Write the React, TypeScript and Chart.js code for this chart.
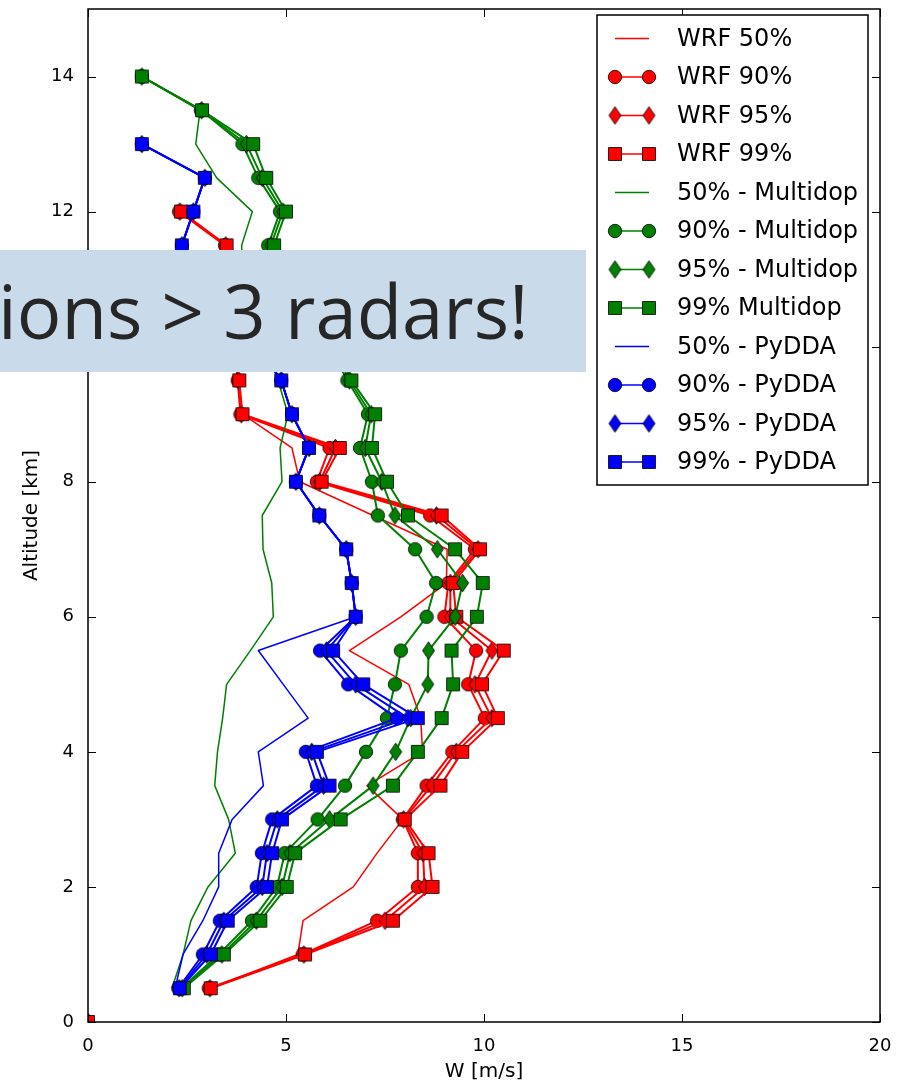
import React, { useEffect, useRef } from 'react';
import { Chart, registerables } from 'chart.js';

Chart.register(...registerables);

// ---------- data ----------
const ALT_WRF = [0, 0.5, 1, 1.5, 2, 2.5, 3, 3.5, 4, 4.5, 5, 5.5, 6, 6.5, 7, 7.5, 8, 8.5, 9, 9.5, 10, 10.5, 11, 11.5, 12];
const WRF_50 = [0, 3.1, 5.3, 5.43, 6.7, 7.3, 7.95, 7.05, 8.45, 8.4, 8.1, 6.6, 7.9, 9.05, 9.07, 7.2, 5.35, 5.15, 3.9, 3.8, 3.7, 3.6, 3.5, 3.48, 2.3];
const WRF_90 = [0, 3.05, 5.42, 7.3, 8.33, 8.33, 7.95, 8.55, 9.2, 10.02, 9.6, 9.8, 9.0, 9.1, 9.77, 8.64, 5.78, 6.1, 3.85, 3.78, 3.7, 3.6, 3.5, 3.46, 2.3];
const WRF_95 = [0, 3.08, 5.45, 7.5, 8.5, 8.46, 7.97, 8.68, 9.3, 10.2, 9.77, 10.2, 9.15, 9.15, 9.85, 8.8, 5.85, 6.25, 3.87, 3.8, 3.72, 3.62, 3.52, 3.48, 2.32];
const WRF_99 = [0, 3.1, 5.48, 7.7, 8.7, 8.6, 8.0, 8.9, 9.45, 10.35, 9.95, 10.5, 9.3, 9.22, 9.9, 8.93, 5.9, 6.36, 3.9, 3.82, 3.75, 3.65, 3.55, 3.5, 2.35];

const ALT_MD = [0.5, 1, 1.5, 2, 2.5, 3, 3.5, 4, 4.5, 5, 5.5, 6, 6.5, 7, 7.5, 8, 8.5, 9, 9.5, 10, 10.5, 11, 11.5, 12, 12.5, 13, 13.5, 14];
const MD_50 = [2.12, 2.4, 2.6, 3.03, 3.72, 3.55, 3.2, 3.27, 3.4, 3.5, 4.1, 4.68, 4.64, 4.42, 4.4, 4.9, 4.85, 5.05, 4.8, 4.5, 4.1, 3.9, 3.88, 4.15, 3.25, 2.72, 2.83, 1.36];
const MD_90 = [2.35, 3.3, 4.14, 4.77, 4.97, 5.8, 6.49, 7.02, 7.55, 7.75, 7.9, 8.55, 8.79, 8.26, 7.32, 7.17, 6.87, 7.07, 6.55, 6.1, 5.6, 5.1, 4.55, 4.85, 4.3, 3.9, 2.85, 1.36];
const MD_95 = [2.38, 3.38, 4.25, 4.9, 5.1, 6.1, 7.2, 7.77, 8.15, 8.58, 8.6, 9.27, 9.46, 8.82, 7.75, 7.42, 7.0, 7.15, 6.6, 6.2, 5.7, 5.2, 4.62, 4.92, 4.4, 4.0, 2.87, 1.36];
const MD_99 = [2.42, 3.43, 4.35, 5.02, 5.23, 6.38, 7.7, 8.33, 8.93, 9.22, 9.18, 9.82, 9.97, 9.27, 8.08, 7.55, 7.17, 7.25, 6.65, 6.3, 5.8, 5.3, 4.7, 5.0, 4.5, 4.17, 2.88, 1.36];

const ALT_PY = [0.5, 1, 1.5, 2, 2.5, 3, 3.5, 4, 4.5, 5, 5.5, 6, 6.5, 7, 7.5, 8, 8.5, 9, 9.5, 10, 10.5, 11, 11.5, 12, 12.5, 13];
const PY_50 = [2.2, 2.4, 2.9, 3.3, 3.3, 3.64, 4.43, 4.3, 5.56, 4.93, 4.3, 6.76, 6.66, 6.52, 5.84, 5.25, 5.58, 5.15, 4.88, 4.3, 3.6, 2.9, 2.37, 2.66, 2.95, 1.36];
const PY_90 = [2.28, 2.9, 3.33, 4.26, 4.39, 4.65, 5.78, 5.5, 7.8, 6.57, 5.86, 6.76, 6.66, 6.52, 5.84, 5.25, 5.58, 5.15, 4.88, 4.3, 3.6, 2.9, 2.37, 2.66, 2.95, 1.36];
const PY_95 = [2.3, 3.0, 3.43, 4.4, 4.52, 4.78, 5.95, 5.65, 8.08, 6.76, 6.02, 6.76, 6.66, 6.52, 5.84, 5.25, 5.58, 5.15, 4.88, 4.3, 3.6, 2.9, 2.37, 2.66, 2.95, 1.36];
const PY_99 = [2.32, 3.1, 3.53, 4.52, 4.65, 4.9, 6.1, 5.78, 8.33, 6.95, 6.19, 6.76, 6.66, 6.52, 5.84, 5.25, 5.58, 5.15, 4.88, 4.3, 3.6, 2.9, 2.37, 2.66, 2.95, 1.36];

const X_TICKS = [0, 5, 10, 15, 20];
const Y_TICKS = [0, 2, 4, 6, 8, 10, 12, 14];

const LABELS = [
  'WRF 50%', 'WRF 90%', 'WRF 95%', 'WRF 99%',
  '50% - Multidop', '90% - Multidop', '95% - Multidop', '99% Multidop',
  '50% - PyDDA', '90% - PyDDA', '95% - PyDDA', '99% - PyDDA',
];
const OVERLAY_TEXT = 'ions > 3 radars!';

const RED = '#ff0000';
const GREEN = '#008000';
const BLUE = '#0000ff';

type Shape = 'circle' | 'square' | 'diamond' | null;

function makeMarker(shape: Shape, color: string): HTMLCanvasElement {
  const c = document.createElement('canvas');
  const W = shape === 'diamond' ? 15 : 16;
  const H = shape === 'diamond' ? 20 : 16;
  c.width = W;
  c.height = H;
  const g = c.getContext('2d')!;
  g.fillStyle = color;
  g.strokeStyle = 'rgba(0,0,0,0.8)';
  g.lineWidth = 1;
  const cx = W / 2;
  const cy = H / 2;
  g.beginPath();
  if (shape === 'circle') g.arc(cx, cy, 6.7, 0, Math.PI * 2);
  else if (shape === 'square') g.rect(cx - 6.5, cy - 6.5, 13, 13);
  else {
    g.moveTo(cx, cy - 8.8);
    g.lineTo(cx + 6, cy);
    g.lineTo(cx, cy + 8.8);
    g.lineTo(cx - 6, cy);
    g.closePath();
  }
  g.fill();
  g.stroke();
  return c;
}

export default function App() {
  const ref = useRef<HTMLCanvasElement>(null);

  useEffect(() => {
    const series: { alt: number[]; w: number[]; color: string; shape: Shape; wrf: boolean }[] = [
      { alt: ALT_WRF, w: WRF_50, color: RED, shape: null, wrf: true },
      { alt: ALT_WRF, w: WRF_90, color: RED, shape: 'circle', wrf: true },
      { alt: ALT_WRF, w: WRF_95, color: RED, shape: 'diamond', wrf: true },
      { alt: ALT_WRF, w: WRF_99, color: RED, shape: 'square', wrf: true },
      { alt: ALT_MD, w: MD_50, color: GREEN, shape: null, wrf: false },
      { alt: ALT_MD, w: MD_90, color: GREEN, shape: 'circle', wrf: false },
      { alt: ALT_MD, w: MD_95, color: GREEN, shape: 'diamond', wrf: false },
      { alt: ALT_MD, w: MD_99, color: GREEN, shape: 'square', wrf: false },
      { alt: ALT_PY, w: PY_50, color: BLUE, shape: null, wrf: false },
      { alt: ALT_PY, w: PY_90, color: BLUE, shape: 'circle', wrf: false },
      { alt: ALT_PY, w: PY_95, color: BLUE, shape: 'diamond', wrf: false },
      { alt: ALT_PY, w: PY_99, color: BLUE, shape: 'square', wrf: false },
    ];
    const markers = series.map((s) => (s.shape ? makeMarker(s.shape, s.color) : null));

    const datasets = series.map((s, i) => ({
      label: LABELS[i],
      data: s.alt.map((a, j) => ({ x: s.w[j], y: a })),
      borderColor: s.color,
      backgroundColor: s.color,
      borderWidth: s.shape ? 2 : 1.5,
      borderJoinStyle: 'round' as const,
      showLine: true,
      pointStyle: markers[i] ? (markers[i] as any) : false,
      pointRadius: s.shape ? 7 : 0,
      pointHoverRadius: s.shape ? 7 : 0,
      order: 12 - i,
      segment: s.wrf
        ? { borderColor: (ctx: any) => (ctx.p0DataIndex === 0 ? 'rgba(0,0,0,0)' : undefined) }
        : undefined,
    }));

    const decor = {
      id: 'decor',
      afterDraw(chart: any) {
        const ctx = chart.ctx as CanvasRenderingContext2D;
        const ca = chart.chartArea;
        const xs = chart.scales.x;
        const ys = chart.scales.y;
        ctx.save();
        // ticks (inward, all sides)
        ctx.strokeStyle = '#000';
        ctx.lineWidth = 1;
        ctx.beginPath();
        X_TICKS.forEach((v) => {
          const px = Math.round(xs.getPixelForValue(v)) + 0.5;
          ctx.moveTo(px, ca.bottom);
          ctx.lineTo(px, ca.bottom - 8);
          ctx.moveTo(px, ca.top);
          ctx.lineTo(px, ca.top + 8);
        });
        Y_TICKS.forEach((v) => {
          const py = Math.round(ys.getPixelForValue(v)) + 0.5;
          ctx.moveTo(ca.left, py);
          ctx.lineTo(ca.left + 8, py);
          ctx.moveTo(ca.right, py);
          ctx.lineTo(ca.right - 8, py);
        });
        ctx.stroke();
        // frame
        ctx.lineWidth = 1.5;
        ctx.strokeRect(ca.left, ca.top, ca.right - ca.left, ca.bottom - ca.top);

        // legend
        const lx = 597, ly = 15, lw = 271, lh = 470;
        ctx.fillStyle = '#fff';
        ctx.fillRect(lx, ly, lw, lh);
        ctx.lineWidth = 1.5;
        ctx.strokeStyle = '#000';
        ctx.strokeRect(lx, ly, lw, lh);
        ctx.font = '24px "DejaVu Sans"';
        ctx.textBaseline = 'middle';
        ctx.textAlign = 'left';
        series.forEach((s, i) => {
          const cy = 38.5 + i * 38.5;
          ctx.strokeStyle = s.color;
          ctx.lineWidth = 1.5;
          ctx.beginPath();
          ctx.moveTo(615, cy);
          ctx.lineTo(649, cy);
          ctx.stroke();
          const m = markers[i];
          if (m) {
            ctx.drawImage(m, 615 - m.width / 2, cy - m.height / 2);
            ctx.drawImage(m, 649 - m.width / 2, cy - m.height / 2);
          }
          ctx.fillStyle = '#000';
          ctx.fillText(LABELS[i], 677, cy + 1);
        });

        // overlay banner
        ctx.fillStyle = '#c9daea';
        ctx.fillRect(0, 250, 586, 122);
        ctx.fillStyle = '#262626';
        ctx.textBaseline = 'alphabetic';
        ctx.font = '100px "Open Sans"';
        const m0 = ctx.measureText(OVERLAY_TEXT);
        const ext0 = m0.actualBoundingBoxLeft + m0.actualBoundingBoxRight;
        const size = (100 * 520) / ext0;
        ctx.font = `${size}px "Open Sans"`;
        const m1 = ctx.measureText(OVERLAY_TEXT);
        ctx.fillText(OVERLAY_TEXT, 3 + m1.actualBoundingBoxLeft, 339);
        ctx.restore();
      },
    };

    const chart = new Chart(ref.current!, {
      type: 'scatter',
      data: { datasets: datasets as any },
      options: {
        responsive: false,
        animation: false,
        devicePixelRatio: 1,
        events: [],
        layout: { padding: { top: 3, right: 24, left: 0, bottom: 0 } },
        plugins: { legend: { display: false }, tooltip: { enabled: false } },
        scales: {
          x: {
            type: 'linear',
            min: 0,
            max: 20,
            afterBuildTicks: (s: any) => {
              s.ticks = X_TICKS.map((v) => ({ value: v }));
            },
            afterFit: (s: any) => {
              s.height = 62;
              s.paddingLeft = 0;
              s.paddingRight = 0;
            },
            grid: { display: false },
            border: { display: false },
            ticks: {
              color: '#000',
              font: { family: 'DejaVu Sans', size: 18 },
              padding: 6,
              maxRotation: 0,
              autoSkip: false,
            },
            title: {
              display: true,
              text: 'W [m/s]',
              color: '#000',
              font: { family: 'DejaVu Sans', size: 20 },
              padding: { top: 0, bottom: 0 },
            },
          },
          y: {
            type: 'linear',
            min: 0,
            max: 15,
            afterBuildTicks: (s: any) => {
              s.ticks = Y_TICKS.map((v) => ({ value: v }));
            },
            afterFit: (s: any) => {
              s.width = 88;
              s.paddingTop = 0;
              s.paddingBottom = 0;
            },
            grid: { display: false },
            border: { display: false },
            ticks: {
              color: '#000',
              font: { family: 'DejaVu Sans', size: 18 },
              padding: 6,
              autoSkip: false,
            },
            title: {
              display: true,
              text: 'Altitude [km]',
              color: '#000',
              font: { family: 'DejaVu Sans', size: 20 },
              padding: { top: 20, bottom: 0 },
            },
          },
        },
      },
      plugins: [decor],
    } as any);
    return () => chart.destroy();
  }, []);

  return (
    <div style={{ position: 'absolute', left: 0, top: 0, width: 904, height: 1084, background: '#fff' }}>
      <canvas ref={ref} width={904} height={1084} style={{ display: 'block', width: 904, height: 1084 }} />
    </div>
  );
}
